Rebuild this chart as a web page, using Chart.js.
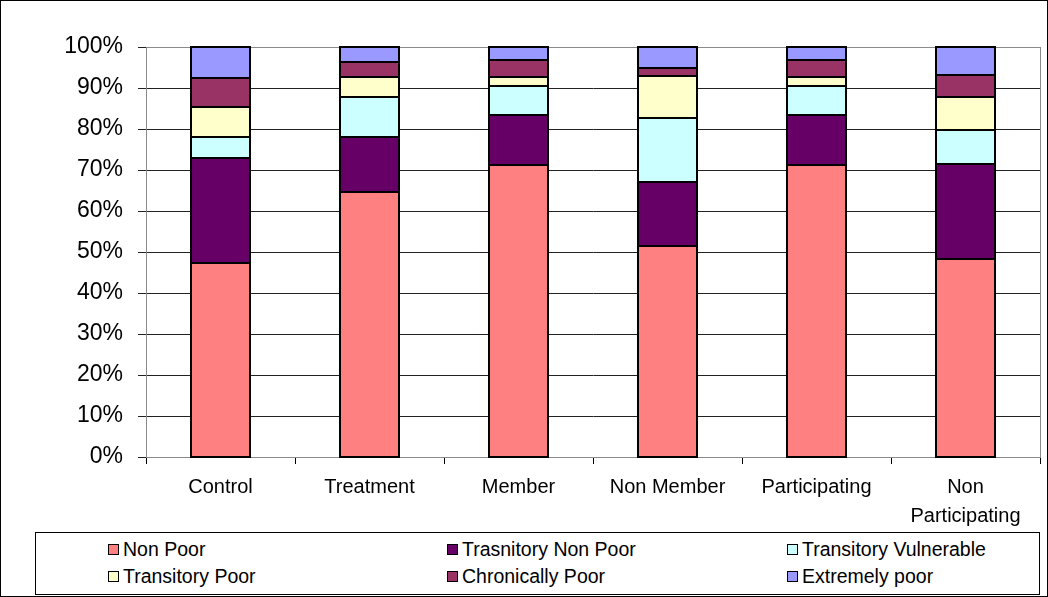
<!DOCTYPE html>
<html>
<head>
<meta charset="utf-8">
<script src="https://cdn.jsdelivr.net/npm/chart.js@4"></script>
<style>
    html, body { margin: 0; padding: 0; background: #fff; }
    #frame {
        position: relative;
        width: 1048px;
        height: 597px;
        box-sizing: border-box;
        border: 1px solid #000;
        overflow: hidden;
        font-family: "Liberation Sans", Arial, sans-serif;
    }
    #chartBox { position: absolute; left: -1px; top: -1px; width: 1048px; height: 530px; }
    #legend {
        position: absolute;
        left: 34px;
        top: 531px;
        width: 1005px;
        height: 63px;
        box-sizing: border-box;
        border: 1px solid #000;
    }
    .item {
        position: absolute;
        display: flex;
        align-items: center;
        font-size: 19.5px;
        line-height: 22px;
        color: #000;
        white-space: nowrap;
    }
    .swatch {
        width: 9px;
        height: 9px;
        border: 1px solid #000;
        margin-right: 4px;
    }
</style>
</head>
<body>
<div id="frame">
    <div id="chartBox"><canvas id="povertyChart"></canvas></div>
    <div id="legend"></div>
</div>
<script>
const categories = ['Control', 'Treatment', 'Member', 'Non Member', 'Participating', ['Non', 'Participating']];
const seriesNames = ['Non Poor', 'Trasnitory Non Poor', 'Transitory Vulnerable', 'Transitory Poor', 'Chronically Poor', 'Extremely poor'];
const nonPoor = [47.2, 64.6, 71.3, 51.4, 71.3, 48.2];
const transNonPoor = [25.8, 13.4, 12.2, 15.7, 12.2, 23.2];
const transVulnerable = [5.1, 9.8, 6.9, 15.6, 6.9, 8.3];
const transPoor = [7.3, 5.0, 2.4, 10.2, 2.4, 8.1];
const chronicPoor = [7.1, 3.5, 4.1, 1.9, 4.1, 5.4];
const extremePoor = [7.5, 3.7, 3.1, 5.2, 3.1, 6.8];
const yTicks = [0, 10, 20, 30, 40, 50, 60, 70, 80, 90, 100];

const colors = ['#FF8080', '#660066', '#CCFFFF', '#FFFFCC', '#993366', '#9999FF'];
const seriesValues = [nonPoor, transNonPoor, transVulnerable, transPoor, chronicPoor, extremePoor];

// grey frame around the plot area, like the spreadsheet chart
const plotFrame = {
    id: 'plotFrame',
    beforeDatasetsDraw(chart) {
        const { ctx, chartArea: a } = chart;
        ctx.save();
        ctx.strokeStyle = '#8a8a8a';
        ctx.lineWidth = 1;
        ctx.strokeRect(a.left + 0.5, a.top + 0.5, a.right - a.left, a.bottom - a.top);
        ctx.restore();
    },
};

// black outline on every segment, shared edges drawn once
const segmentOutline = {
    id: 'segmentOutline',
    afterDatasetsDraw(chart) {
        const { ctx } = chart;
        ctx.save();
        ctx.strokeStyle = '#000';
        ctx.lineWidth = 2;
        chart.data.datasets.forEach((ds, i) => {
            chart.getDatasetMeta(i).data.forEach((bar) => {
                const { x, y, base, width } = bar.getProps(['x', 'y', 'base', 'width'], true);
                const left = Math.round(x - width / 2);
                const right = Math.round(x + width / 2);
                ctx.strokeRect(left, Math.round(y), right - left, Math.round(base) - Math.round(y));
            });
        });
        ctx.restore();
    },
};

const chart = new Chart(document.getElementById('povertyChart'), {
    type: 'bar',
    data: {
        labels: categories,
        datasets: seriesNames.map((name, i) => ({
            label: name,
            data: seriesValues[i],
            backgroundColor: colors[i],
            borderWidth: 0,
            barPercentage: 0.4,
            categoryPercentage: 1,
        })),
    },
    options: {
        responsive: true,
        maintainAspectRatio: false,
        animation: false,
        layout: { padding: { top: 47, right: 8, left: 0, bottom: 0 } },
        scales: {
            x: {
                stacked: true,
                offset: true,
                grid: { drawOnChartArea: false, offset: true, tickLength: 7, color: '#000' },
                border: { color: '#000' },
                ticks: {
                    color: '#000',
                    padding: 9,
                    maxRotation: 0,
                    autoSkip: false,
                    font: { family: 'Liberation Sans', size: 20, lineHeight: 1.45 },
                },
                afterFit: (scale) => { scale.height = 73; },
            },
            y: {
                stacked: true,
                min: 0,
                max: 100,
                afterBuildTicks: (scale) => { scale.ticks = yTicks.map((v) => ({ value: v })); },
                grid: { color: '#222', tickLength: 8 },
                border: { color: '#000' },
                ticks: {
                    color: '#000',
                    padding: 15,
                    font: { family: 'Liberation Sans', size: 23 },
                    callback: (value) => `${value}%`,
                },
                afterFit: (scale) => { scale.width = 146; },
            },
        },
        plugins: {
            legend: { display: false },
            tooltip: { enabled: false },
        },
    },
    plugins: [plotFrame, segmentOutline],
});

// legend box below the chart: two rows, three columns
const legendEl = document.getElementById('legend');
const colX = [72, 411, 751];
const rowY = [5, 32];
seriesNames.forEach((name, i) => {
    const item = document.createElement('div');
    item.className = 'item';
    item.style.left = colX[i % 3] + 'px';
    item.style.top = rowY[Math.floor(i / 3)] + 'px';
    item.innerHTML = `<span class="swatch" style="background:${colors[i]}"></span>${name}`;
    legendEl.appendChild(item);
});
</script>
</body>
</html>
